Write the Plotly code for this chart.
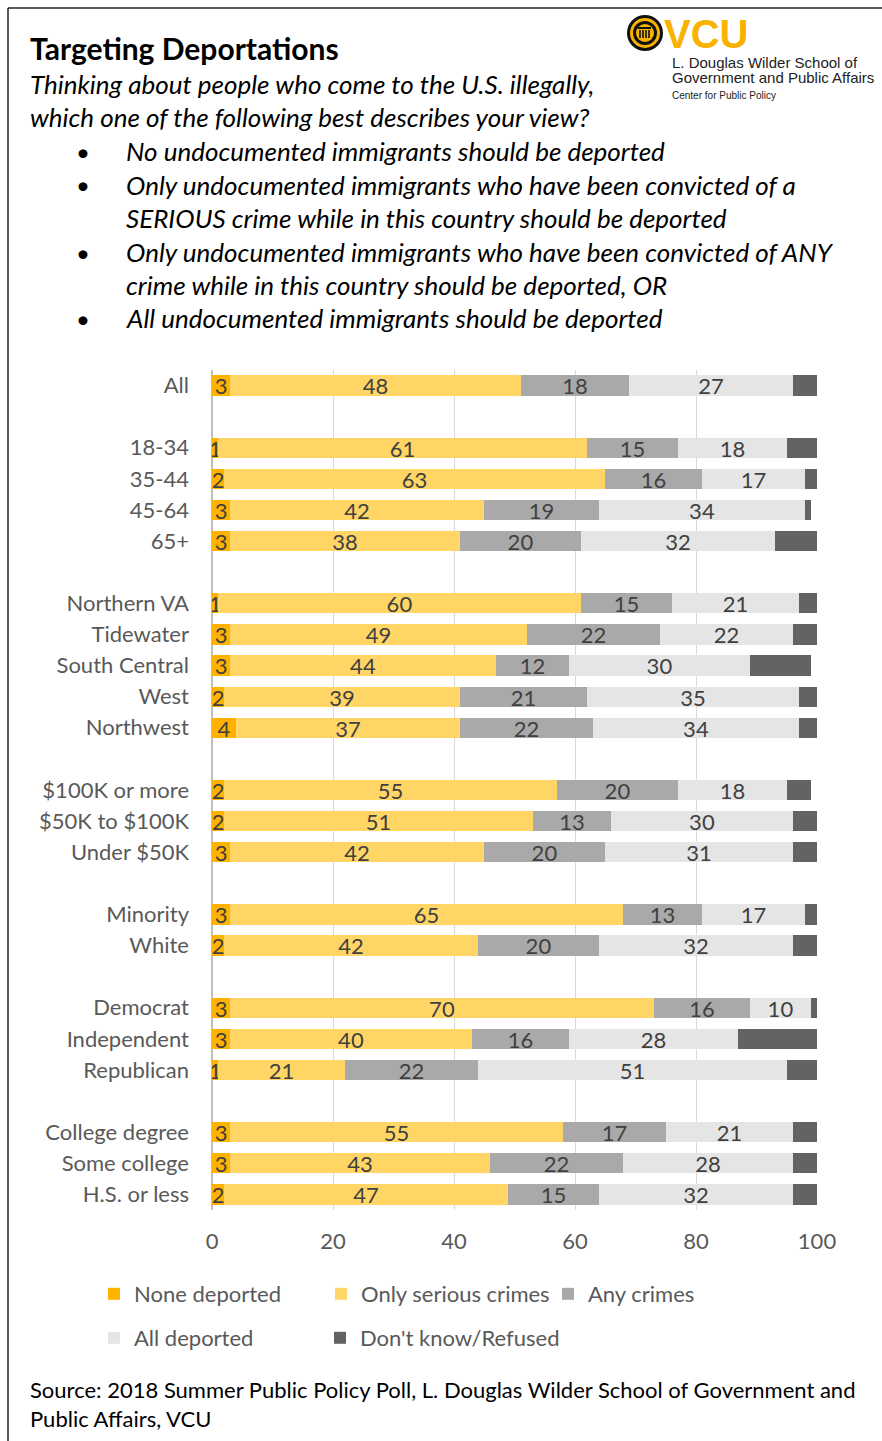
import plotly.graph_objects as go

# ---- data -------------------------------------------------------------
groups = [
    ["All"],
    ["18-34", "35-44", "45-64", "65+"],
    ["Northern VA", "Tidewater", "South Central", "West", "Northwest"],
    ["$100K or more", "$50K to $100K", "Under $50K"],
    ["Minority", "White"],
    ["Democrat", "Independent", "Republican"],
    ["College degree", "Some college", "H.S. or less"],
]

none_deported = [3, 1, 2, 3, 3, 1, 3, 3, 2, 4, 2, 2, 3, 3, 2, 3, 3, 1, 3, 3, 2]
only_serious = [48, 61, 63, 42, 38, 60, 49, 44, 39, 37, 55, 51, 42, 65, 42, 70, 40, 21, 55, 43, 47]
any_crimes = [18, 15, 16, 19, 20, 15, 22, 12, 21, 22, 20, 13, 20, 13, 20, 16, 16, 22, 17, 22, 15]
all_deported = [27, 18, 17, 34, 32, 21, 22, 30, 35, 34, 18, 30, 31, 17, 32, 10, 28, 51, 21, 28, 32]
dont_know = [4, 5, 2, 1, 7, 3, 4, 10, 3, 3, 4, 4, 4, 2, 4, 1, 13, 5, 4, 4, 4]

series_names = ["None deported", "Only serious crimes", "Any crimes",
                "All deported", "Don't know/Refused"]
x_ticks = [0, 20, 40, 60, 80, 100]

title = "Targeting Deportations"
question = [
    "Thinking about people who come to the U.S. illegally,",
    "which one of the following best describes your view?",
]
options = [
    ["No undocumented immigrants should be deported"],
    ["Only undocumented immigrants who have been convicted of a",
     "SERIOUS crime while in this country should be deported"],
    ["Only undocumented immigrants who have been convicted of ANY",
     "crime while in this country should be deported, OR"],
    ["All undocumented immigrants should be deported"],
]
source = [
    "Source: 2018 Summer Public Policy Poll, L. Douglas Wilder School of Government and",
    "Public Affairs, VCU",
]

# ---- layout helpers ---------------------------------------------------
FW, FH = 882, 1441
ML, MR, MT, MB = 212, 65, 370, 231
PW, PH = FW - ML - MR, FH - MT - MB


def px(x):
    return (x - ML) / PW


def py(y):
    return 1 - (y - MT) / PH


# one empty slot between groups
labels, slots = [], []
pos = 0
for g in groups:
    for name in g:
        labels.append(name)
        slots.append(pos)
        pos += 1
    pos += 1
last_slot = slots[-1]

colors = ["#FFB300", "#FFD566", "#A9A9A9", "#E5E5E5", "#636363"]
values = [none_deported, only_serious, any_crimes, all_deported, dont_know]
legend_of = ["legend", "legend", "legend", "legend2", "legend3"]
FONT = "Lato"

fig = go.Figure()
for i, (name, vals, col) in enumerate(zip(series_names, values, colors)):
    show_text = i < 4
    fig.add_trace(go.Bar(
        y=slots, x=vals, orientation="h", name=name,
        marker=dict(color=col, line=dict(width=0)),
        width=0.65,
        text=[str(v) for v in vals] if show_text else None,
        textposition="inside" if show_text else "none",
        insidetextanchor="middle",
        textangle=0,
        constraintext="none",
        textfont=dict(family=FONT, size=22, color="#404040"),
        legend=legend_of[i],
        hoverinfo="skip",
    ))


def note(text, x, y, size, color="#000000", anchor="left", family=FONT):
    return dict(text=text, x=px(x), y=py(y), xref="paper", yref="paper",
                xanchor=anchor, yanchor="middle", showarrow=False,
                font=dict(family=family, size=size, color=color))


ann = [note("<b>%s</b>" % title, 28, 48, 30)]
for k, line in enumerate(question):
    ann.append(note("<i>%s</i>" % line, 28, 84 + 33 * k, 26))
line_y = [151, 185, 218, 252, 285, 318]
li = 0
for opt in options:
    ann.append(note("•", 83, line_y[li], 24, anchor="center"))
    for line in opt:
        ann.append(note("<i>%s</i>" % line, 124, line_y[li], 26))
        li += 1
for k, line in enumerate(source):
    ann.append(note(line, 28, 1389 + 29 * k, 22))

# logo block
ann.append(note("<b>VCU</b>", 662, 34, 40, color="#F8B300", family="Liberation Sans"))
logo_lines = [("L. Douglas Wilder School of", 62, 15),
              ("Government and Public Affairs", 78, 15),
              ("Center for Public Policy", 95, 10)]
for txt, yy, sz in logo_lines:
    ann.append(note(txt, 670, yy, sz, color="#222222", family="Liberation Sans"))

shapes = []
# frame
shapes.append(dict(type="line", xref="paper", yref="paper", x0=px(8), x1=px(882),
                   y0=py(8), y1=py(8), line=dict(color="#222222", width=1.5)))
shapes.append(dict(type="line", xref="paper", yref="paper", x0=px(8), x1=px(8),
                   y0=py(8), y1=py(1441), line=dict(color="#222222", width=1.5)))
# seal
cx, cy = 645, 33
for r, fill in [(18, "#111111"), (15, "#F8B300"), (12, "#111111"), (9, "#F8B300")]:
    shapes.append(dict(type="circle", xref="paper", yref="paper",
                       x0=px(cx - r), x1=px(cx + r), y0=py(cy - r), y1=py(cy + r),
                       fillcolor=fill, line=dict(width=0)))
for dx in [-5, -2, 1, 4]:
    shapes.append(dict(type="rect", xref="paper", yref="paper",
                       x0=px(cx + dx - 0.8), x1=px(cx + dx + 0.8),
                       y0=py(cy + 5), y1=py(cy - 3),
                       fillcolor="#111111", line=dict(width=0)))
shapes.append(dict(type="rect", xref="paper", yref="paper",
                   x0=px(cx - 7), x1=px(cx + 6), y0=py(cy - 4), y1=py(cy - 6),
                   fillcolor="#111111", line=dict(width=0)))

legend_common = dict(orientation="h", entrywidth=182, entrywidthmode="pixels",
                     xanchor="left", yanchor="middle",
                     font=dict(family=FONT, size=22, color="#595959"),
                     bgcolor="rgba(0,0,0,0)", traceorder="normal")
legend3_style = dict(legend_common, entrywidth=230)

fig.update_layout(
    width=FW, height=FH,
    margin=dict(l=ML, r=MR, t=MT, b=MB, pad=0),
    paper_bgcolor="white", plot_bgcolor="white",
    barmode="stack", bargap=0,
    showlegend=True,
    legend=dict(x=px(94), y=py(1294), **legend_common),
    legend2=dict(x=px(94), y=py(1338), **legend_common),
    legend3=dict(x=px(320), y=py(1338), **legend3_style),
    xaxis=dict(range=[0, 100], tickvals=x_ticks, showgrid=True,
               gridcolor="#D9D9D9", gridwidth=1, zeroline=True,
               zerolinecolor="#BFBFBF", zerolinewidth=2,
               tickfont=dict(family=FONT, size=22, color="#595959"),
               ticklabelstandoff=16, fixedrange=True),
    yaxis=dict(range=[last_slot + 0.5, -0.5], tickvals=slots, ticktext=labels,
               showgrid=False, zeroline=False,
               tickfont=dict(family=FONT, size=22, color="#595959"),
               ticklabelstandoff=22, fixedrange=True),
    annotations=ann,
    shapes=shapes,
)

fig.write_html("out.html")
